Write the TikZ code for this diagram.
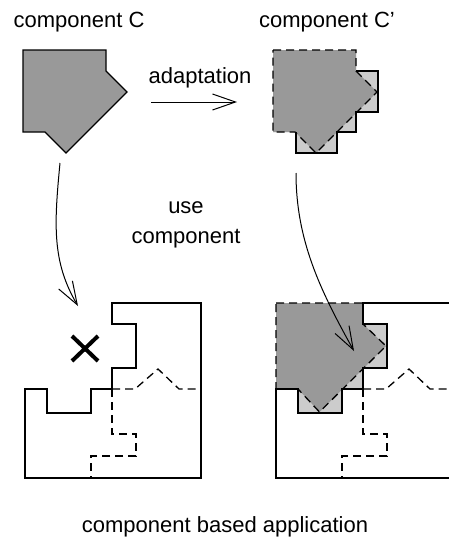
\documentclass[tikz,border=0pt]{standalone}
\usepackage{fontspec}
\setmainfont{Liberation Sans}
\usetikzlibrary{arrows.meta}

\begin{document}
\begin{tikzpicture}[x=1pt,y=-1pt,line join=miter,
  txt/.style={font=\fontsize{22}{30}\selectfont,align=center,inner sep=0pt},
  dark/.style={fill=black!40},
  light/.style={fill=black!20},
  edge/.style={line width=1.3pt},
  hidden/.style={line width=1.3pt,dash pattern=on 8pt off 5pt},
  flow/.style={line width=1pt,-{Straight Barb[length=23pt,width=16pt]}}]
  \clip (0,0) rectangle (449,546);

  % texts
  \node[txt] (compC) at (79,22) {component C};
  \node[txt] (compCp) at (327,22) {component C’};
  \node[txt] (adapt) at (200,78) {adaptation};
  \node[txt] (use) at (186,225) {use\\component};
  \node[txt] (app) at (225,527) {component based application};

  % component C
  \draw[dark,edge] (23,50) -- (106,50) -- (106,71) -- (127,92) -- (66,153) -- (45,132) -- (23,132) -- cycle;

  % component C': stepped piece behind, old shape on top
  \fill[light] (273,50) -- (356,50) -- (356,71) -- (378,71) -- (378,112) -- (356,112) -- (356,132)
    -- (337,132) -- (337,153) -- (296,153) -- (296,132) -- (273,132) -- cycle;
  \draw[dark,hidden] (273,50) -- (356,50) -- (356,71) -- (377,92) -- (316,153) -- (295,132) -- (273,132) -- cycle;
  \draw[edge] (356,71) -- (378,71) -- (378,112) -- (356,112) -- (356,132) -- (337,132) -- (337,153) -- (296,153) -- (296,132);

  % piece in the right application
  \begin{scope}[xshift=251]
    \fill[light] (25,303) -- (112,303) -- (112,324) -- (136,324) -- (136,368) -- (112,368) -- (112,389)
      -- (91,389) -- (91,413) -- (47,413) -- (47,389) -- (25,389) -- cycle;
    \draw[dark,hidden] (25,303) -- (112,303) -- (112,324) -- (135,346) -- (68.5,412) -- (47,389) -- (25,389) -- cycle;
  \end{scope}

  % the two applications
  \foreach \dx in {0,251}{
    \begin{scope}[xshift=\dx]
      \draw[edge] (112,303) -- (201,303) -- (201,478) -- (25,478) -- (25,389) -- (47,389) -- (47,413) -- (91,413)
        -- (91,389) -- (112,389) -- (112,368) -- (136,368) -- (136,324) -- (112,324) -- cycle;
      \draw[hidden] (112,389) -- (135,389) -- (158,369) -- (179,389) -- (201,389);
      \draw[hidden] (112,389) -- (112,434) -- (136,434) -- (136,456) -- (91,456) -- (91,478);
    \end{scope}
  }

  % cross: the piece does not fit
  \draw[line width=4pt] (72,336) -- (98,361) (98,336) -- (72,361);

  % arrows
  \coordinate (cBot) at (60,163);
  \coordinate (gap) at (78,306);
  \coordinate (cpBot) at (296,173);
  \coordinate (fit) at (354,351);
  \coordinate (adaptL) at (151,102);
  \coordinate (adaptR) at (237,102);
  \draw[flow] (adaptL) -- (adaptR);
  \draw[flow] (cBot) .. controls (54,225) and (52,262) .. (gap);
  \draw[flow] (cpBot) .. controls (296,240) and (320,290) .. (fit);
\end{tikzpicture}
\end{document}
